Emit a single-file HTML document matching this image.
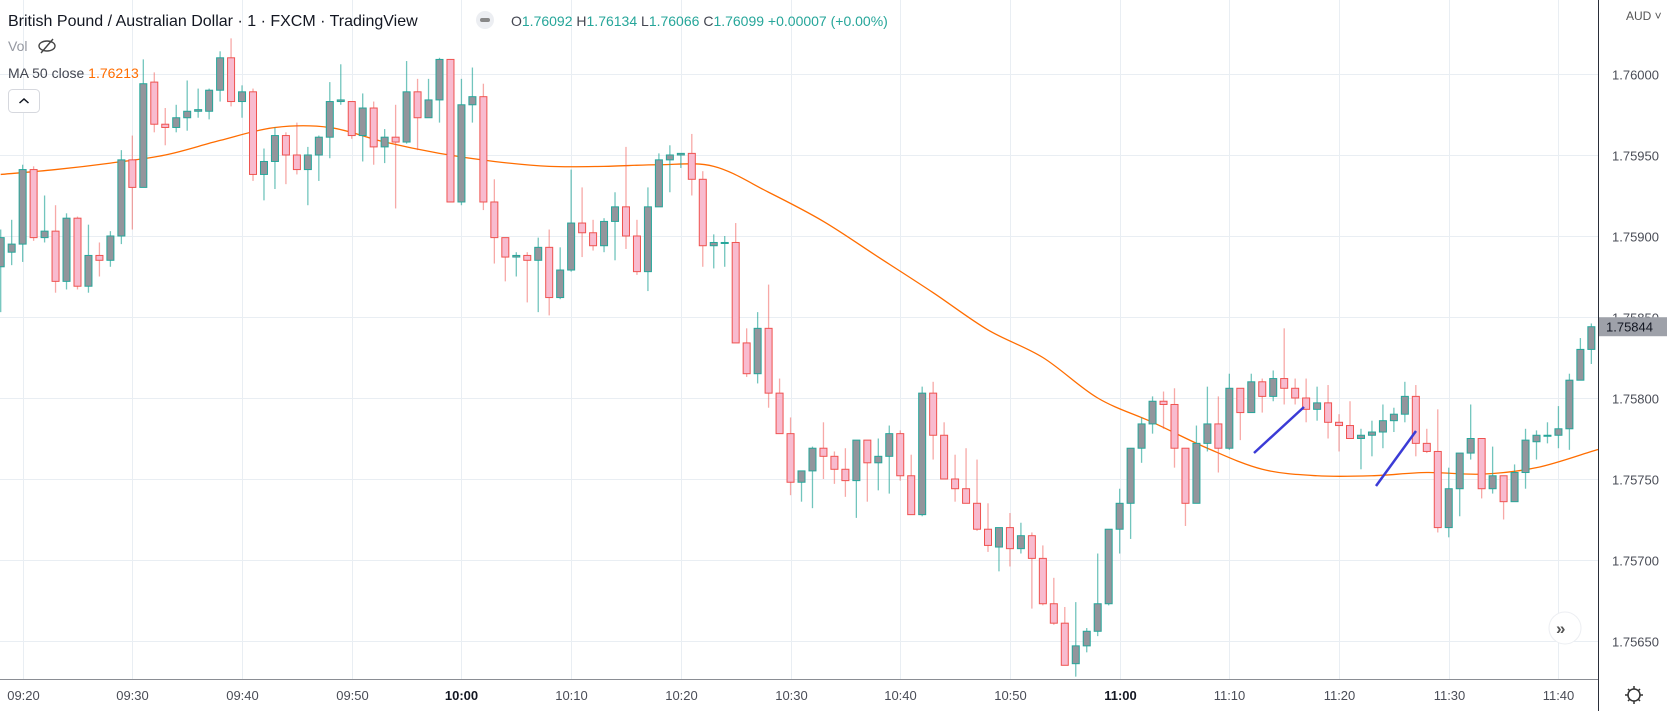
<!DOCTYPE html>
<html><head><meta charset="utf-8"><style>
html,body{margin:0;padding:0;background:#fff;}
svg{display:block;font-family:"Liberation Sans",sans-serif;}
</style></head><body>
<svg id="chart" width="1670" height="711" viewBox="0 0 1670 711" xmlns="http://www.w3.org/2000/svg">
<rect x="0" y="0" width="1670" height="711" fill="#ffffff"/>
<g id="grid"></g>
<g id="ma"></g>
<g id="candles"></g>
<g>
<line x1="1254" y1="453" x2="1304" y2="407" stroke="#3b3bd6" stroke-width="2.5"/>
<line x1="1376" y1="486" x2="1416" y2="431" stroke="#3b3bd6" stroke-width="2.5"/>
</g>
<line x1="0" y1="679.5" x2="1598" y2="679.5" stroke="#8a8d94" stroke-width="1"/>
<line x1="1598.5" y1="0" x2="1598.5" y2="711" stroke="#2a2e39" stroke-width="1"/>
<g id="yaxis"></g>
<g id="xaxis"></g>
<text x="1626" y="20" font-size="12" fill="#555">AUD ˅</text>
<g>
<rect id="lastBox" x="1599" y="318" width="68" height="19" fill="#9ea1a9"/>
<text id="lastText" x="1606" y="332" font-size="13" fill="#131722">1.75844</text>
</g>
<g>
<circle cx="1565" cy="628" r="16" fill="#fff" stroke="#eceef2"/>
<text x="1556" y="634" font-size="17" font-weight="bold" fill="#555">»</text>
</g>
<g>
<circle cx="1634" cy="695" r="6" fill="none" stroke="#333" stroke-width="1.5"/>
<path d="M1634 686v3M1634 701v3M1625 695h3M1640 695h3M1628 689l2 2M1638 699l2 2M1628 701l2-2M1638 691l2-2" stroke="#333" stroke-width="1.5"/>
</g>
<text x="8" y="26" font-size="16" fill="#131722">British Pound / Australian Dollar · 1 · FXCM · TradingView</text>
<g><circle cx="485" cy="20" r="9" fill="#eceef2"/><rect x="480" y="18" width="10" height="4" rx="2" fill="#888"/></g>
<text x="511" y="26" font-size="14" fill="#26a69a"><tspan fill="#434651">O</tspan>1.76092 <tspan fill="#434651">H</tspan>1.76134 <tspan fill="#434651">L</tspan>1.76066 <tspan fill="#434651">C</tspan>1.76099 +0.00007 (+0.00%)</text>
<text x="8" y="51" font-size="14" fill="#9598a1">Vol</text>
<g><ellipse cx="47" cy="46" rx="8" ry="5" fill="none" stroke="#444" stroke-width="1.4"/><line x1="41" y1="53" x2="53" y2="39" stroke="#444" stroke-width="1.4"/></g>
<text x="8" y="78" font-size="14" fill="#434651">MA 50 close <tspan fill="#ff6d00">1.76213</tspan></text>
<g><rect x="8.5" y="89.5" width="31" height="23" rx="4" fill="#fff" stroke="#d6d8de"/><path d="M19.5 103l4.5-4 4.5 4" fill="none" stroke="#131722" stroke-width="1.5"/></g>
</svg>
<script>
var opens=[1.75881,1.75890,1.75895,1.75941,1.75899,1.75903,1.75872,1.75911,1.75869,1.75888,1.75885,1.75900,1.75947,1.75930,1.75995,1.75969,1.75967,1.75973,1.75977,1.75977,1.75990,1.76010,1.75983,1.75989,1.75938,1.75946,1.75962,1.75950,1.75941,1.75950,1.75961,1.75983,1.75983,1.75962,1.75979,1.75955,1.75961,1.75958,1.75989,1.75973,1.75984,1.76009,1.75921,1.75981,1.75986,1.75921,1.75899,1.75887,1.75888,1.75885,1.75893,1.75862,1.75879,1.75908,1.75902,1.75894,1.75909,1.75918,1.75900,1.75878,1.75918,1.75947,1.75950,1.75951,1.75935,1.75894,1.75896,1.75896,1.75834,1.75815,1.75843,1.75803,1.75778,1.75748,1.75755,1.75769,1.75764,1.75756,1.75749,1.75774,1.75760,1.75764,1.75778,1.75752,1.75728,1.75803,1.75777,1.75750,1.75744,1.75735,1.75719,1.75708,1.75720,1.75707,1.75715,1.75701,1.75673,1.75661,1.75636,1.75647,1.75656,1.75673,1.75719,1.75735,1.75769,1.75784,1.75798,1.75796,1.75769,1.75735,1.75772,1.75784,1.75769,1.75806,1.75791,1.75810,1.75801,1.75812,1.75806,1.75800,1.75793,1.75797,1.75785,1.75783,1.75775,1.75777,1.75779,1.75786,1.75790,1.75801,1.75772,1.75767,1.75720,1.75744,1.75766,1.75775,1.75744,1.75752,1.75736,1.75754,1.75773,1.75777,1.75777,1.75781,1.75811,1.75830];
var highs=[1.75904,1.75910,1.75944,1.75943,1.75925,1.75919,1.75914,1.75912,1.75907,1.75896,1.75903,1.75953,1.75962,1.76009,1.76001,1.75979,1.75981,1.75996,1.75991,1.75991,1.76014,1.76022,1.75993,1.75991,1.75954,1.75967,1.75964,1.75970,1.75955,1.75962,1.75995,1.76006,1.75983,1.75988,1.75983,1.75966,1.75981,1.76008,1.75997,1.75997,1.76010,1.76009,1.75997,1.76004,1.75994,1.75935,1.75899,1.75890,1.75890,1.75899,1.75904,1.75893,1.75941,1.75930,1.75910,1.75911,1.75927,1.75955,1.75910,1.75930,1.75951,1.75956,1.75951,1.75963,1.75940,1.75901,1.75900,1.75908,1.75843,1.75853,1.75870,1.75812,1.75788,1.75755,1.75770,1.75785,1.75767,1.75769,1.75774,1.75774,1.75775,1.75783,1.75780,1.75765,1.75807,1.75810,1.75785,1.75765,1.75769,1.75762,1.75735,1.75720,1.75729,1.75723,1.75717,1.75709,1.75689,1.75671,1.75674,1.75658,1.75704,1.75719,1.75744,1.75769,1.75788,1.75801,1.75804,1.75806,1.75769,1.75783,1.75807,1.75801,1.75815,1.75806,1.75815,1.75812,1.75817,1.75843,1.75812,1.75812,1.75807,1.75808,1.75790,1.75798,1.75781,1.75786,1.75796,1.75794,1.75810,1.75808,1.75781,1.75793,1.75757,1.75766,1.75796,1.75775,1.75770,1.75752,1.75759,1.75781,1.75780,1.75785,1.75795,1.75815,1.75837,1.75846];
var lows=[1.75853,1.75882,1.75884,1.75897,1.75896,1.75865,1.75867,1.75867,1.75865,1.75875,1.75881,1.75895,1.75904,1.75930,1.75964,1.75956,1.75964,1.75965,1.75973,1.75972,1.75983,1.75980,1.75973,1.75934,1.75922,1.75929,1.75932,1.75938,1.75919,1.75934,1.75948,1.75981,1.75960,1.75946,1.75944,1.75945,1.75917,1.75957,1.75953,1.75973,1.75970,1.75921,1.75919,1.75970,1.75916,1.75883,1.75872,1.75875,1.75859,1.75853,1.75851,1.75861,1.75878,1.75887,1.75891,1.75890,1.75885,1.75892,1.75876,1.75866,1.75918,1.75927,1.75942,1.75925,1.75881,1.75880,1.75881,1.75834,1.75813,1.75809,1.75794,1.75778,1.75740,1.75736,1.75732,1.75750,1.75747,1.75739,1.75726,1.75736,1.75743,1.75741,1.75749,1.75728,1.75727,1.75762,1.75750,1.75736,1.75735,1.75718,1.75705,1.75693,1.75696,1.75704,1.75670,1.75672,1.75660,1.75635,1.75628,1.75643,1.75653,1.75672,1.75704,1.75713,1.75760,1.75778,1.75781,1.75757,1.75721,1.75735,1.75767,1.75754,1.75768,1.75774,1.75791,1.75791,1.75798,1.75796,1.75796,1.75785,1.75786,1.75775,1.75767,1.75775,1.75756,1.75764,1.75769,1.75779,1.75785,1.75764,1.75766,1.75717,1.75714,1.75727,1.75762,1.75738,1.75741,1.75725,1.75736,1.75744,1.75762,1.75772,1.75769,1.75768,1.75811,1.75821];
var closes=[1.75899,1.75895,1.75941,1.75899,1.75903,1.75872,1.75911,1.75869,1.75888,1.75885,1.75900,1.75947,1.75930,1.75994,1.75969,1.75967,1.75973,1.75977,1.75978,1.75990,1.76010,1.75983,1.75989,1.75938,1.75946,1.75962,1.75950,1.75941,1.75950,1.75961,1.75983,1.75984,1.75962,1.75979,1.75955,1.75961,1.75958,1.75989,1.75973,1.75984,1.76009,1.75921,1.75981,1.75986,1.75921,1.75899,1.75887,1.75888,1.75885,1.75893,1.75862,1.75879,1.75908,1.75902,1.75894,1.75909,1.75918,1.75900,1.75878,1.75918,1.75947,1.75950,1.75951,1.75935,1.75894,1.75896,1.75896,1.75834,1.75815,1.75843,1.75803,1.75778,1.75748,1.75755,1.75769,1.75764,1.75756,1.75749,1.75774,1.75760,1.75764,1.75778,1.75752,1.75728,1.75803,1.75777,1.75750,1.75744,1.75735,1.75719,1.75709,1.75720,1.75707,1.75715,1.75701,1.75673,1.75661,1.75635,1.75647,1.75656,1.75673,1.75719,1.75735,1.75769,1.75784,1.75798,1.75796,1.75769,1.75735,1.75772,1.75784,1.75769,1.75806,1.75791,1.75810,1.75801,1.75812,1.75806,1.75800,1.75793,1.75797,1.75785,1.75783,1.75775,1.75777,1.75779,1.75786,1.75790,1.75801,1.75772,1.75767,1.75720,1.75744,1.75766,1.75775,1.75744,1.75752,1.75736,1.75754,1.75774,1.75777,1.75777,1.75781,1.75811,1.75830,1.75844];
var maValues=[1.75938,1.75941,1.75945,1.75950,1.75959,1.75967,1.75967,1.75958,1.75951,1.75946,1.75943,1.75943,1.75944,1.75943,1.75927,1.75909,1.75887,1.75865,1.75842,1.75825,1.75800,1.75785,1.75769,1.75756,1.75752,1.75752,1.75754,1.75753,1.75757,1.75767];
var maStep=5;
var priceTicks=[1.76000,1.75950,1.75900,1.75850,1.75800,1.75750,1.75700,1.75650];
var timeLabels=["09:20","09:30","09:40","09:50","10:00","10:10","10:20","10:30","10:40","10:50","11:00","11:10","11:20","11:30","11:40"];
var timeLabelBars=[2,12,22,32,42,52,62,72,82,92,102,112,122,132,142];
var boldLabels=["10:00","11:00"];

var NS="http://www.w3.org/2000/svg";
function xS(i){return 0.7+i*10.97;}
function yS(p){return 74+(1.76-p)*162000;}
function mk(tag,attrs,parent){var e=document.createElementNS(NS,tag);for(var a in attrs)e.setAttribute(a,attrs[a]);parent.appendChild(e);return e;}

var gridG=document.getElementById('grid');
var yaxisG=document.getElementById('yaxis');
var xaxisG=document.getElementById('xaxis');
priceTicks.forEach(function(p){
  var y=Math.round(yS(p))+0.5;
  var l=mk('line',{x1:0,x2:1598,y1:y,y2:y,stroke:'#e9eef3','stroke-width':1},gridG);
  
  
  var t=mk('text',{x:1612,y:y+5,'font-size':13,fill:'#4a4d57'},yaxisG);
  t.textContent=p.toFixed(5);
  
  
});
timeLabels.forEach(function(s,i){
  var x=Math.round(xS(timeLabelBars[i]))+0.5;
  var l=mk('line',{x1:x,x2:x,y1:0,y2:679,stroke:'#e9eef3','stroke-width':1},gridG);
  
  
  var t=mk('text',{x:x,y:700,'font-size':13,fill:'#4a4d57','text-anchor':'middle'},xaxisG);
  if(boldLabels.indexOf(s)>=0){t.setAttribute('font-weight','bold');t.setAttribute('fill','#131722');}
  t.textContent=s;
  
  
});

var pts=maValues.map(function(v,i){return [xS(i*maStep),yS(v)];});
var dPath='M'+pts[0][0]+' '+pts[0][1];
for(var i=0;i<pts.length-1;i++){
  var p0=pts[Math.max(0,i-1)],p1=pts[i],p2=pts[i+1],p3=pts[Math.min(pts.length-1,i+2)];
  dPath+=' C'+(p1[0]+(p2[0]-p0[0])/6)+' '+(p1[1]+(p2[1]-p0[1])/6)+' '+(p2[0]-(p3[0]-p1[0])/6)+' '+(p2[1]-(p3[1]-p1[1])/6)+' '+p2[0]+' '+p2[1];
}
var lastPt=pts[pts.length-1],prevPt=pts[pts.length-2];
dPath+=' L1598 '+(lastPt[1]+(lastPt[1]-prevPt[1])/(lastPt[0]-prevPt[0])*(1598-lastPt[0]));
var maPath=mk('path',{d:dPath,fill:'none',stroke:'#ff6d00','stroke-width':1.3},document.getElementById('ma'));



var candleG=document.getElementById('candles');
for(var k=0;k<opens.length;k++){
  var o=opens[k],c=closes[k],h=highs[k],lo=lows[k];
  var up=c>=o;
  var cx=xS(k);
  var g=mk('g',{},candleG);
  
  
  mk('line',{x1:cx,x2:cx,y1:yS(h),y2:yS(lo),stroke:up?'#26a69a':'#ef5350','stroke-opacity':up?0.65:0.5,'stroke-width':1.3},g);
  var bodyTop=yS(Math.max(o,c)),bodyBot=yS(Math.min(o,c));
  var bodyH=Math.max(1,bodyBot-bodyTop);
  mk('rect',{x:cx-3.5,y:bodyTop,width:7,height:bodyH,fill:up?'#93959c':'#f8bbcf',stroke:up?'#26a69a':'#ef5350','stroke-width':1},g);
}
var lastPrice=closes[closes.length-1];
document.getElementById('lastBox').setAttribute('y',yS(lastPrice)-9.5);
document.getElementById('lastText').setAttribute('y',yS(lastPrice)+5);
document.getElementById('lastText').textContent=lastPrice.toFixed(5);
</script>
</body></html>
